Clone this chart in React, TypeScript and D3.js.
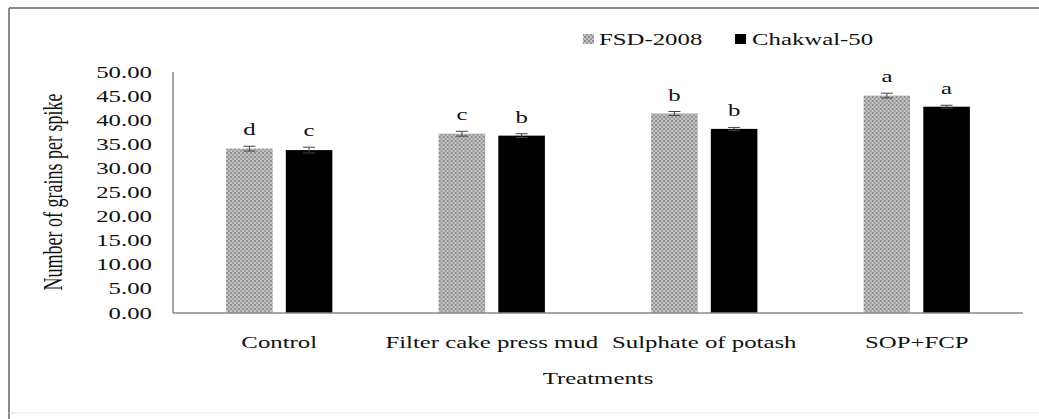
import React from 'react';
import * as d3 from 'd3';

const treatments = ['Control', 'Filter cake press mud', 'Sulphate of potash', 'SOP+FCP'];
const series = ['FSD-2008', 'Chakwal-50'];
const fsdValues = [34.1, 37.2, 41.4, 45.1];
const chakwalValues = [33.8, 36.8, 38.2, 42.8];
const fsdErrors = [0.5, 0.5, 0.4, 0.5];
const chakwalErrors = [0.6, 0.4, 0.3, 0.3];
const fsdLetters = ['d', 'c', 'b', 'a'];
const chakwalLetters = ['c', 'b', 'b', 'a'];
const yTicks = [0, 5, 10, 15, 20, 25, 30, 35, 40, 45, 50];

const W = 1039, H = 419;
const left = 173, right = 1023, top = 72, bottom = 313;
const font = '"Liberation Serif", "Times New Roman", serif';
const SX = 1.55; // the picture is stretched sideways, so is its text

const x0 = d3.scaleBand().domain(treatments).range([left, right]).paddingInner(0.5).paddingOuter(0.25);
const x1 = d3.scaleBand().domain(series).range([0, x0.bandwidth()]).paddingInner(0.22);
const y = d3.scaleLinear().domain([0, 50]).range([bottom, top]);

const fills: Record<string, string> = { 'FSD-2008': 'url(#dots)', 'Chakwal-50': '#000' };

function T({ x, y, children, anchor = 'middle', size = 16, rotate = 0, weight = 'normal' }: any) {
  return (
    <text
      transform={`translate(${x},${y}) scale(${SX},1)${rotate ? ` rotate(${rotate})` : ''}`}
      textAnchor={anchor}
      fontFamily={font}
      fontSize={size}
      fontWeight={weight}
      fill="#111"
    >
      {children}
    </text>
  );
}

export default function App() {
  const rows = treatments.map((t, i) => ({
    t,
    bars: [
      { s: series[0], v: fsdValues[i], e: fsdErrors[i], l: fsdLetters[i] },
      { s: series[1], v: chakwalValues[i], e: chakwalErrors[i], l: chakwalLetters[i] },
    ],
  }));

  return (
    <svg width={W} height={H} style={{ position: 'absolute', left: 0, top: 0, background: '#fff' }}>
      <defs>
        <pattern id="dots" width="4" height="4" patternUnits="userSpaceOnUse">
          <rect width="4" height="4" fill="#c4c4c4" />
          <rect width="2" height="2" fill="#8e8e8e" />
          <rect x="2" y="2" width="2" height="2" fill="#9a9a9a" />
        </pattern>
      </defs>

      {/* frame */}
      <line x1={9} x2={W} y1={8} y2={8} stroke="#8a8a8a" strokeWidth={2} />
      <line x1={9} x2={9} y1={8} y2={H} stroke="#8a8a8a" strokeWidth={2} />
      <line x1={9} x2={W} y1={413} y2={413} stroke="#e4e4e4" strokeWidth={1} />

      {/* legend */}
      <rect x={583} y={34} width={11} height={10} fill="url(#dots)" />
      <T x={599} y={45} anchor="start">{series[0]}</T>
      <rect x={735} y={34} width={11} height={10} fill="#000" />
      <T x={752} y={45} anchor="start">{series[1]}</T>

      {/* y axis */}
      <line x1={left} x2={left} y1={top} y2={bottom} stroke="#888" strokeWidth={1.5} />
      {yTicks.map((v) => (
        <T key={v} x={152} y={y(v) + 5.5} anchor="end">{v.toFixed(2)}</T>
      ))}
      <T x={62} y={192} rotate={-90} size={18}>Number of grains per spike</T>

      {/* bars */}
      {rows.map((r) => (
        <g key={r.t} transform={`translate(${x0(r.t)},0)`}>
          {r.bars.map((b) => {
            const bx = x1(b.s)!;
            const cx = bx + x1.bandwidth() / 2;
            return (
              <g key={b.s}>
                <rect x={bx} y={y(b.v)} width={x1.bandwidth()} height={bottom - y(b.v)} fill={fills[b.s]} />
                <line x1={cx} x2={cx} y1={y(b.v + b.e)} y2={y(b.v - b.e)} stroke="#444" strokeWidth={1} />
                <line x1={cx - 6} x2={cx + 6} y1={y(b.v + b.e)} y2={y(b.v + b.e)} stroke="#444" strokeWidth={1} />
                <line x1={cx - 6} x2={cx + 6} y1={y(b.v - b.e)} y2={y(b.v - b.e)} stroke="#444" strokeWidth={1} />
                <T x={cx} y={y(b.v + b.e) - 11}>{b.l}</T>
              </g>
            );
          })}
        </g>
      ))}

      {/* x axis */}
      <line x1={left} x2={right} y1={bottom} y2={bottom} stroke="#888" strokeWidth={1.5} />
      {treatments.map((t) => (
        <T key={t} x={x0(t)! + x0.bandwidth() / 2} y={348}>{t}</T>
      ))}
      <T x={(left + right) / 2} y={384}>Treatments</T>
    </svg>
  );
}
